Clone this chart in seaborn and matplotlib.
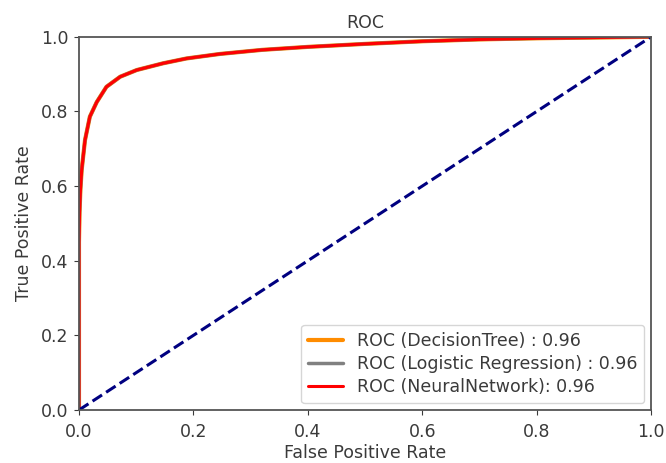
import numpy as np
import pandas as pd
import matplotlib
matplotlib.use("Agg")
import matplotlib.pyplot as plt
import seaborn as sns

# ROC curve values
fpr = [0.0, 0.0, 0.001, 0.0025, 0.0047, 0.0105, 0.019, 0.031, 0.048, 0.072,
       0.101, 0.147, 0.188, 0.246, 0.320, 0.400, 0.500, 0.600, 0.700, 0.800,
       0.900, 1.0]
tpr_dt = [0.0, 0.45, 0.53, 0.59, 0.643, 0.723, 0.786, 0.825, 0.866, 0.893,
          0.911, 0.929, 0.942, 0.954, 0.965, 0.973, 0.981, 0.988, 0.993, 0.996,
          0.998, 1.0]
tpr_lr = tpr_dt
tpr_nn = tpr_dt
labels = ["ROC (DecisionTree) : 0.96",
          "ROC (Logistic Regression) : 0.96",
          "ROC (NeuralNetwork): 0.96"]
diag = [0.0, 1.0]

sns.set_style("ticks")
plt.rcParams["font.family"] = ["DejaVu Sans"]
txt = "#3a3a3a"

fig = plt.figure(figsize=(6.66, 4.63), dpi=100)
ax = fig.add_axes([0.1186, 0.1145, 0.859, 0.806])

sns.lineplot(x=fpr, y=tpr_dt, ax=ax, color="darkorange", lw=3, label=labels[0],
             estimator=None, sort=False)
sns.lineplot(x=fpr, y=tpr_lr, ax=ax, color="gray", lw=2.5, label=labels[1],
             estimator=None, sort=False)
sns.lineplot(x=fpr, y=tpr_nn, ax=ax, color="red", lw=2.2, label=labels[2],
             estimator=None, sort=False)
ax.plot(diag, diag, color="navy", lw=2.2, linestyle="--")

ax.set_xlim(0, 1)
ax.set_ylim(0, 1)
ax.set_xticks([0, 0.2, 0.4, 0.6, 0.8, 1.0])
ax.set_yticks([0, 0.2, 0.4, 0.6, 0.8, 1.0])
ax.set_xlabel("False Positive Rate", fontsize=12.5, color=txt, labelpad=2)
ax.set_ylabel("True Positive Rate", fontsize=12.5, color=txt, labelpad=6)
ax.set_title("ROC", fontsize=12.5, color=txt, pad=6)
ax.tick_params(labelsize=12.5, colors=txt)
ax.tick_params(axis="x", pad=6)
ax.tick_params(axis="y", pad=4)
for s in ax.spines.values():
    s.set_visible(True)
    s.set_color("#555555")
    s.set_linewidth(1.3)

leg = ax.legend(loc="lower right", fontsize=12.5, frameon=True, labelspacing=0.3,
                borderaxespad=0.4)
for t in leg.get_texts():
    t.set_color(txt)

fig.savefig("out.png", dpi=100)
